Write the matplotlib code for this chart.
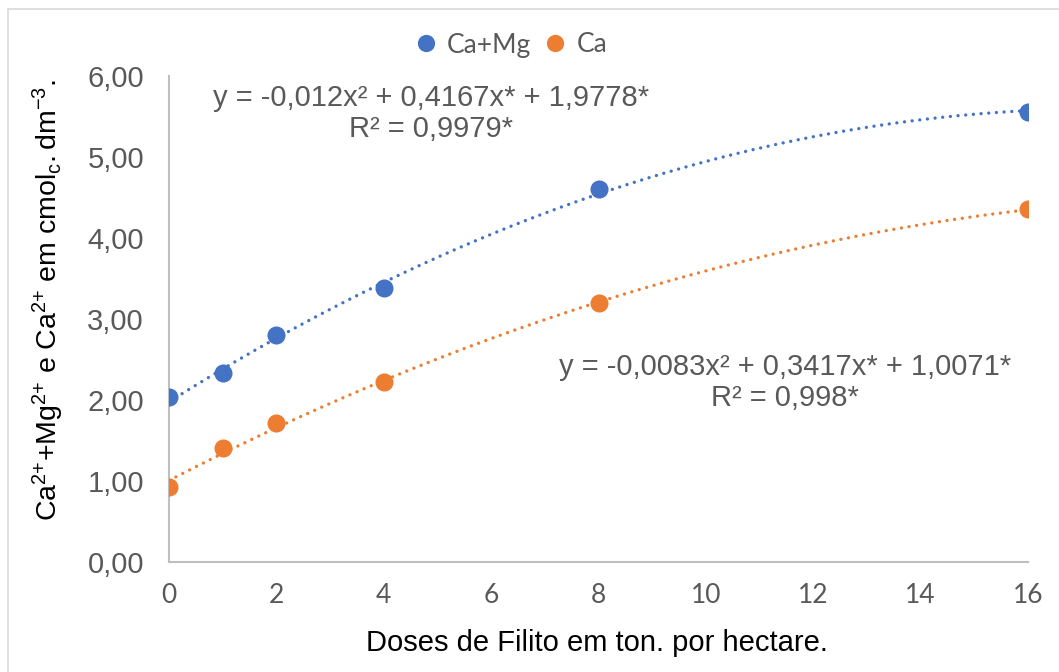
import numpy as np
import matplotlib
matplotlib.use("Agg")
import matplotlib.pyplot as plt
from matplotlib.patches import Rectangle
from matplotlib.ticker import FuncFormatter

# doses (ton/ha) and measured values
doses = [0, 1, 2, 4, 8, 16]
ca_mg = [2.04, 2.33, 2.80, 3.38, 4.61, 5.55]
ca = [0.92, 1.41, 1.71, 2.22, 3.20, 4.36]

# trendline coefficients (a*x^2 + b*x + c)
coef_ca_mg = [-0.012, 0.4167, 1.9778]
coef_ca = [-0.0083, 0.3417, 1.0071]

eq_ca_mg = "y = -0,012x² + 0,4167x* + 1,9778*\nR² = 0,9979*"
eq_ca = "y = -0,0083x² + 0,3417x* + 1,0071*\nR² = 0,998*"

series_names = ["Ca+Mg", "Ca"]
x_ticks = [0, 2, 4, 6, 8, 10, 12, 14, 16]
y_ticks = [0, 1, 2, 3, 4, 5, 6]

blue = "#4472C4"
orange = "#ED7D31"
gray = "#595959"

plt.rcParams['mathtext.fontset'] = 'custom'
plt.rcParams['mathtext.rm'] = 'Liberation Sans'
plt.rcParams['mathtext.it'] = 'Liberation Sans:italic'

fig = plt.figure(figsize=(10.59, 6.72), dpi=100)
ax = fig.add_axes([169/1059, 1-562/672, (1028-169)/1059, (562-76)/672])

# outer frame of the chart area
fig.patches.append(Rectangle((8/1059, -0.1), 1.2, 1-9/672+0.1, transform=fig.transFigure,
                             fill=False, edgecolor="#D9D9D9", lw=1.2))

xs = np.linspace(0, 16, 200)
dot = (0, (0.01, 2.3))
ax.plot(xs, np.polyval(coef_ca_mg, xs), color=blue, lw=2.4, linestyle=dot, dash_capstyle='round')
ax.plot(xs, np.polyval(coef_ca, xs), color=orange, lw=2.4, linestyle=dot, dash_capstyle='round')
ax.plot(doses, ca_mg, 'o', color=blue, ms=12, label=series_names[0], zorder=3)
ax.plot(doses, ca, 'o', color=orange, ms=12, label=series_names[1], zorder=3)

ax.set_xlim(0, 16)
ax.set_ylim(0, 6)
ax.set_xticks(x_ticks)
ax.set_yticks(y_ticks)
ax.yaxis.set_major_formatter(FuncFormatter(lambda v, p: f"{v:.2f}".replace('.', ',')))
ax.tick_params(length=0)
ax.tick_params(axis='y', pad=18, labelsize=21, labelcolor=gray)
ax.tick_params(axis='x', pad=15, labelsize=19, labelcolor=gray)
for lab in ax.get_yticklabels():
    lab.set_fontfamily('Liberation Sans')
for lab in ax.get_xticklabels():
    lab.set_fontfamily('Lato')

for s in ['top', 'right']:
    ax.spines[s].set_visible(False)
for s in ['left', 'bottom']:
    ax.spines[s].set_color("#BFBFBF")
    ax.spines[s].set_linewidth(1.5)

ax.text(4.88, 5.54, eq_ca_mg, ha='center', va='center', fontsize=21, color=gray,
        family='Liberation Sans', multialignment='center', linespacing=1.15)
ax.text(11.47, 2.22, eq_ca, ha='center', va='center', fontsize=21, color=gray,
        family='Liberation Sans', multialignment='center', linespacing=1.15)

fig.text(597/1059, 1-643/672, "Doses de Filito em ton. por hectare.", ha='center', va='center',
         fontsize=21, family='Liberation Sans')
ylab = (r"$\mathrm{Ca}^{2{+}}\mathrm{{+}Mg}^{2{+}}\ \mathrm{e\ Ca}^{2{+}}\ "
        r"\mathrm{em\ cmol}_{\mathrm{c}}\mathrm{.dm}^{-3}\mathrm{.}$")
fig.text(48/1059, 1-300/672, ylab, rotation=90, ha='center', va='center', fontsize=20.5)

fig.legend(loc='center', bbox_to_anchor=(510/1059, 1-45/672), ncol=2, frameon=False,
           handlelength=1.0, handletextpad=0.3, columnspacing=0.4, markerscale=0.95,
           prop={'family': 'Lato', 'size': 19}, labelcolor=gray)

fig.savefig("out.png", dpi=100)
